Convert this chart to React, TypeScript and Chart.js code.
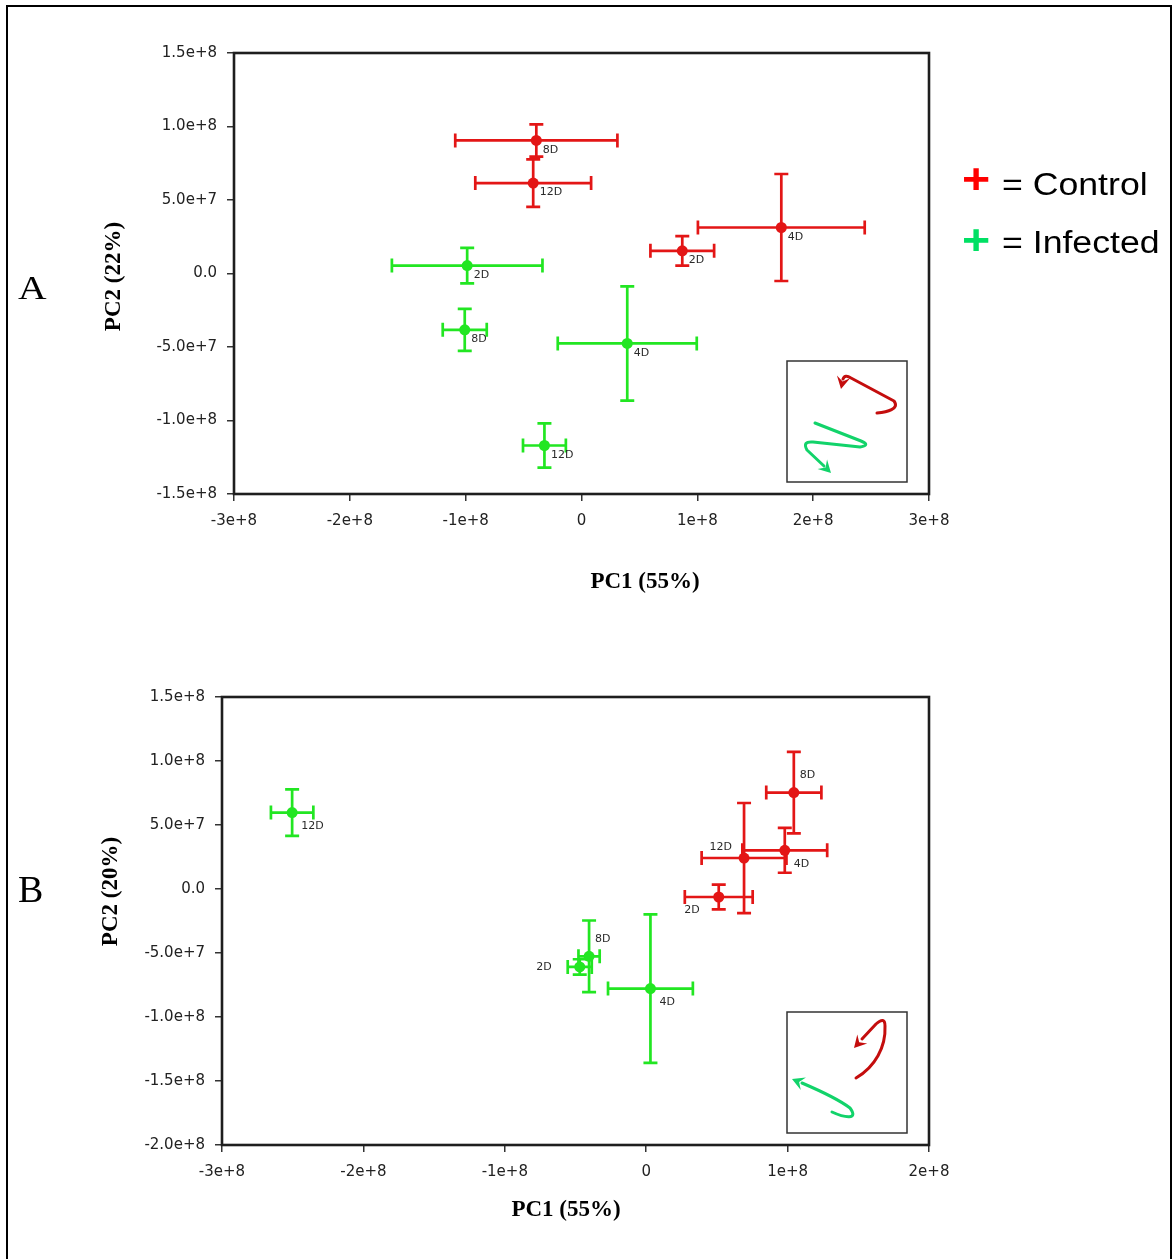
import React, { useEffect, useRef } from 'react';
import { Chart, registerables } from 'chart.js';

Chart.register(...registerables);

// ---------------- data ----------------
const days = ['2D', '4D', '8D', '12D'];

// Panel A
const aXTicks = ['-3e+8', '-2e+8', '-1e+8', '0', '1e+8', '2e+8', '3e+8'];
const aYTicks = ['-1.5e+8', '-1.0e+8', '-5.0e+7', '0.0', '5.0e+7', '1.0e+8', '1.5e+8'];
const aControlPC1 = [0.87e8, 1.725e8, -0.39e8, -0.417e8];
const aControlPC2 = [1.54e7, 3.13e7, 9.05e7, 6.15e7];
const aControlErr1 = [0.275e8, 0.72e8, 0.7e8, 0.5e8];
const aControlErr2 = [1.0e7, 3.64e7, 1.1e7, 1.62e7];
const aInfectedPC1 = [-0.987e8, 0.395e8, -1.008e8, -0.32e8];
const aInfectedPC2 = [0.54e7, -4.76e7, -3.83e7, -1.17e8];
const aInfectedErr1 = [0.65e8, 0.6e8, 0.19e8, 0.185e8];
const aInfectedErr2 = [1.21e7, 3.89e7, 1.43e7, 1.5e7];
const aControlTagSide = ['se', 'se', 'se', 'se'];
const aInfectedTagSide = ['se', 'se', 'se', 'se'];

// Panel B
const bXTicks = ['-3e+8', '-2e+8', '-1e+8', '0', '1e+8', '2e+8'];
const bYTicks = ['-2.0e+8', '-1.5e+8', '-1.0e+8', '-5.0e+7', '0.0', '5.0e+7', '1.0e+8', '1.5e+8'];
const bControlPC1 = [0.513e8, 0.98e8, 1.044e8, 0.692e8];
const bControlPC2 = [-0.625e7, 3.02e7, 7.53e7, 2.42e7];
const bControlErr1 = [0.24e8, 0.3e8, 0.195e8, 0.3e8];
const bControlErr2 = [0.97e7, 1.75e7, 3.18e7, 4.3e7];
const bInfectedPC1 = [-0.47e8, 0.03e8, -0.404e8, -2.504e8];
const bInfectedPC2 = [-6.09e7, -7.78e7, -5.26e7, 5.97e7];
const bInfectedErr1 = [0.085e8, 0.3e8, 0.075e8, 0.15e8];
const bInfectedErr2 = [0.6e7, 5.8e7, 2.8e7, 1.82e7];
const bControlTagSide = ['sw', 'se', 'ne', 'nw'];
const bInfectedTagSide = ['w', 'se', 'ne', 'se'];

const CONTROL_COLOR = '#e31616';
const INFECTED_COLOR = '#22e622';

// ---------------- plugins ----------------
const framePlugin = {
  id: 'plotFrame',
  afterDraw(chart: any) {
    const { ctx, chartArea: a } = chart;
    ctx.save();
    ctx.strokeStyle = '#1e1e1e';
    ctx.lineWidth = 2.6;
    ctx.strokeRect(a.left, a.top, a.right - a.left, a.bottom - a.top);
    ctx.restore();
  },
};

const errorBarPlugin = {
  id: 'errorBars',
  beforeDatasetsDraw(chart: any) {
    const { ctx } = chart;
    const xs = chart.scales.x;
    const ys = chart.scales.y;
    const cap = 7;
    chart.data.datasets.forEach((ds: any) => {
      ctx.save();
      ctx.strokeStyle = ds.backgroundColor;
      ctx.lineWidth = 2.7;
      ds.data.forEach((p: any) => {
        const cx = xs.getPixelForValue(p.x);
        const cy = ys.getPixelForValue(p.y);
        const x0 = xs.getPixelForValue(p.x - p.xErr);
        const x1 = xs.getPixelForValue(p.x + p.xErr);
        const y0 = ys.getPixelForValue(p.y + p.yErr);
        const y1 = ys.getPixelForValue(p.y - p.yErr);
        ctx.beginPath();
        ctx.moveTo(x0, cy);
        ctx.lineTo(x1, cy);
        ctx.moveTo(cx, y0);
        ctx.lineTo(cx, y1);
        ctx.moveTo(x0, cy - cap);
        ctx.lineTo(x0, cy + cap);
        ctx.moveTo(x1, cy - cap);
        ctx.lineTo(x1, cy + cap);
        ctx.moveTo(cx - cap, y0);
        ctx.lineTo(cx + cap, y0);
        ctx.moveTo(cx - cap, y1);
        ctx.lineTo(cx + cap, y1);
        ctx.stroke();
      });
      ctx.restore();
    });
  },
};

const tagPlugin = {
  id: 'pointTags',
  afterDatasetsDraw(chart: any, _args: any, opts: any) {
    const { ctx } = chart;
    const xs = chart.scales.x;
    const ys = chart.scales.y;
    const offsets = opts.offsets || {};
    ctx.save();
    ctx.font = '11px "DejaVu Sans", sans-serif';
    ctx.fillStyle = '#2a2a2a';
    ctx.textBaseline = 'middle';
    chart.data.datasets.forEach((ds: any) => {
      ds.data.forEach((p: any) => {
        const o = offsets[p.side] || { dx: 7, dy: 10, align: 'left' };
        ctx.textAlign = o.align;
        ctx.fillText(p.day, xs.getPixelForValue(p.x) + o.dx, ys.getPixelForValue(p.y) + o.dy);
      });
    });
    ctx.restore();
  },
};

function arrowHead(ctx: any, tx: number, ty: number, fx: number, fy: number, size: number) {
  const ang = Math.atan2(ty - fy, tx - fx);
  ctx.beginPath();
  ctx.moveTo(tx, ty);
  ctx.lineTo(tx - size * Math.cos(ang - 0.5), ty - size * Math.sin(ang - 0.5));
  ctx.lineTo(tx - size * 0.55 * Math.cos(ang), ty - size * 0.55 * Math.sin(ang));
  ctx.lineTo(tx - size * Math.cos(ang + 0.5), ty - size * Math.sin(ang + 0.5));
  ctx.closePath();
  ctx.fill();
}

const insetPlugin = {
  id: 'insetSketch',
  afterDraw(chart: any, _args: any, opts: any) {
    const { ctx, chartArea: a } = chart;
    const w = 120;
    const h = 121;
    const bx = a.right - 22 - w;
    const by = a.bottom - 12 - h;
    ctx.save();
    ctx.strokeStyle = '#333';
    ctx.lineWidth = 1.5;
    ctx.strokeRect(bx, by, w, h);
    ctx.lineWidth = 3;
    ctx.lineCap = 'round';
    ctx.lineJoin = 'round';
    const red = '#c40d0d';
    const green = '#12d36a';
    if (opts.variant === 'A') {
      ctx.strokeStyle = red;
      ctx.fillStyle = red;
      ctx.beginPath();
      ctx.moveTo(bx + 90, by + 52);
      ctx.bezierCurveTo(bx + 100, by + 51, bx + 113, by + 48, bx + 107, by + 40);
      ctx.lineTo(bx + 64, by + 17);
      ctx.quadraticCurveTo(bx + 58, by + 13, bx + 56, by + 18);
      ctx.stroke();
      arrowHead(ctx, bx + 54, by + 28, bx + 56.5, by + 16, 14);
      ctx.strokeStyle = green;
      ctx.fillStyle = green;
      ctx.beginPath();
      ctx.moveTo(bx + 28, by + 62);
      ctx.lineTo(bx + 74, by + 80);
      ctx.quadraticCurveTo(bx + 84, by + 84, bx + 73, by + 86);
      ctx.lineTo(bx + 26, by + 81);
      ctx.quadraticCurveTo(bx + 15, by + 80, bx + 20, by + 89);
      ctx.lineTo(bx + 37, by + 105);
      ctx.stroke();
      arrowHead(ctx, bx + 44, by + 112, bx + 35, by + 103, 14);
    } else {
      ctx.strokeStyle = red;
      ctx.fillStyle = red;
      ctx.beginPath();
      ctx.moveTo(bx + 69, by + 66);
      ctx.bezierCurveTo(bx + 88, by + 55, bx + 99, by + 35, bx + 98, by + 14);
      ctx.quadraticCurveTo(bx + 98, by + 4, bx + 89, by + 12);
      ctx.lineTo(bx + 75, by + 27);
      ctx.stroke();
      arrowHead(ctx, bx + 67, by + 36, bx + 77, by + 25, 14);
      ctx.strokeStyle = green;
      ctx.fillStyle = green;
      ctx.beginPath();
      ctx.moveTo(bx + 45, by + 100);
      ctx.bezierCurveTo(bx + 58, by + 106, bx + 72, by + 108, bx + 63, by + 96);
      ctx.quadraticCurveTo(bx + 50, by + 86, bx + 15, by + 71);
      ctx.stroke();
      arrowHead(ctx, bx + 5, by + 67, bx + 17, by + 72, 14);
    }
    ctx.restore();
  },
};

// ---------------- config ----------------
function makeDataset(label: string, color: string, pc1: number[], pc2: number[], e1: number[], e2: number[], sides: string[]) {
  return {
    label,
    backgroundColor: color,
    borderColor: color,
    borderWidth: 0,
    pointRadius: 5.5,
    pointHoverRadius: 5.5,
    data: pc1.map((x, i) => ({ x, y: pc2[i], xErr: e1[i], yErr: e2[i], day: days[i], side: sides[i] })),
  };
}

function buildConfig(p: any) {
  const gridCfg = { display: true, drawOnChartArea: false, drawTicks: true, tickLength: 7, color: '#333', lineWidth: 1.5 };
  return {
    type: 'scatter',
    data: { datasets: p.datasets },
    options: {
      responsive: false,
      animation: false,
      events: [],
      layout: { padding: { left: p.padLeft, right: 244, top: p.padTop, bottom: p.padBottom } },
      plugins: {
        legend: { display: false },
        tooltip: { enabled: false },
        pointTags: { offsets: p.offsets },
        insetSketch: { variant: p.variant },
      },
      scales: {
        x: {
          type: 'linear',
          position: 'bottom',
          min: p.xMin,
          max: p.xMax,
          afterFit: (s: any) => { s.height = 40; },
          ticks: {
            stepSize: 1e8,
            autoSkip: false,
            maxRotation: 0,
            padding: 11,
            color: '#222',
            font: { size: 15, family: '"DejaVu Sans", sans-serif' },
            callback: (_v: any, i: number) => p.xTicks[i],
          },
          grid: gridCfg,
          border: { display: false },
        },
        y: {
          type: 'linear',
          position: 'left',
          min: p.yMin,
          max: p.yMax,
          afterFit: (s: any) => { s.width = 100; },
          ticks: {
            stepSize: 5e7,
            autoSkip: false,
            padding: 10,
            color: '#222',
            font: { size: 15, family: '"DejaVu Sans", sans-serif' },
            callback: (_v: any, i: number) => p.yTicks[i],
          },
          grid: gridCfg,
          border: { display: false },
        },
      },
    },
    plugins: [errorBarPlugin, tagPlugin, framePlugin, insetPlugin],
  };
}

function ChartCanvas({ config, width, height, top }: any) {
  const ref = useRef<HTMLCanvasElement | null>(null);
  useEffect(() => {
    if (!ref.current) return;
    const chart = new Chart(ref.current, config as any);
    return () => chart.destroy();
  }, []);
  return (
    <canvas
      ref={ref}
      width={width}
      height={height}
      style={{ position: 'absolute', left: 0, top, width, height }}
    />
  );
}

const serif = '"Liberation Serif", "Times New Roman", serif';
const sans = '"Liberation Sans", Arial, sans-serif';

export default function App() {
  const configA = buildConfig({
    datasets: [
      makeDataset('Control', CONTROL_COLOR, aControlPC1, aControlPC2, aControlErr1, aControlErr2, aControlTagSide),
      makeDataset('Infected', INFECTED_COLOR, aInfectedPC1, aInfectedPC2, aInfectedErr1, aInfectedErr2, aInfectedTagSide),
    ],
    xMin: -3e8, xMax: 3e8, yMin: -1.5e8, yMax: 1.5e8,
    xTicks: aXTicks, yTicks: aYTicks,
    padLeft: 134, padTop: 53, padBottom: 106,
    offsets: { se: { dx: 6.5, dy: 9.5, align: 'left' } },
    variant: 'A',
  });
  const configB = buildConfig({
    datasets: [
      makeDataset('Control', CONTROL_COLOR, bControlPC1, bControlPC2, bControlErr1, bControlErr2, bControlTagSide),
      makeDataset('Infected', INFECTED_COLOR, bInfectedPC1, bInfectedPC2, bInfectedErr1, bInfectedErr2, bInfectedTagSide),
    ],
    xMin: -3e8, xMax: 2e8, yMin: -2e8, yMax: 1.5e8,
    xTicks: bXTicks, yTicks: bYTicks,
    padLeft: 122, padTop: 57, padBottom: 74,
    offsets: {
      se: { dx: 9, dy: 14, align: 'left' },
      ne: { dx: 6, dy: -17, align: 'left' },
      nw: { dx: -12, dy: -11, align: 'right' },
      sw: { dx: -19, dy: 13, align: 'right' },
      w: { dx: -28, dy: 0, align: 'right' },
    },
    variant: 'B',
  });

  const abs = (o: any) => ({ position: 'absolute' as const, whiteSpace: 'nowrap' as const, ...o });

  return (
    <div style={{ position: 'absolute', left: 0, top: 0, width: 1173, height: 1259, overflow: 'hidden', background: '#fff' }}>
      <ChartCanvas config={configA} width={1173} height={640} top={0} />
      <ChartCanvas config={configB} width={1173} height={619} top={640} />

      <div style={abs({ left: 6, top: 5, width: 1166, height: 1280, border: '2px solid #000', boxSizing: 'border-box' })} />

      <div style={abs({ left: 18, top: 272, fontFamily: serif, fontSize: 33, lineHeight: '33px', color: '#000', transform: 'scaleX(1.2)', transformOrigin: 'left' })}>A</div>
      <div style={abs({ left: 18, top: 870, fontFamily: serif, fontSize: 38, lineHeight: '38px', color: '#000' })}>B</div>

      <div style={abs({ left: 112 - 100, top: 276 - 11.5, width: 200, height: 23, lineHeight: '23px', textAlign: 'center', fontFamily: serif, fontWeight: 'bold', fontSize: 23, color: '#000', transform: 'rotate(-90deg)' })}>PC2 (22%)</div>
      <div style={abs({ left: 645 - 100, top: 568.7, width: 200, lineHeight: '23px', textAlign: 'center', fontFamily: serif, fontWeight: 'bold', fontSize: 23, color: '#000' })}>PC1 (55%)</div>

      <div style={abs({ left: 109 - 100, top: 891 - 11.5, width: 200, height: 23, lineHeight: '23px', textAlign: 'center', fontFamily: serif, fontWeight: 'bold', fontSize: 23, color: '#000', transform: 'rotate(-90deg)' })}>PC2 (20%)</div>
      <div style={abs({ left: 566 - 100, top: 1196.7, width: 200, lineHeight: '23px', textAlign: 'center', fontFamily: serif, fontWeight: 'bold', fontSize: 23, color: '#000' })}>PC1 (55%)</div>

      <div style={abs({ left: 962, top: 158, fontFamily: sans, fontWeight: 'bold', fontSize: 42, lineHeight: '42px', color: '#ff0000', transform: 'scaleX(1.15)', transformOrigin: 'left' })}>+</div>
      <div style={abs({ left: 1002, top: 168.8, fontFamily: sans, fontSize: 31, lineHeight: '31px', color: '#000', transform: 'scaleX(1.15)', transformOrigin: 'left' })}>= Control</div>
      <div style={abs({ left: 962, top: 219, fontFamily: sans, fontWeight: 'bold', fontSize: 42, lineHeight: '42px', color: '#00e064', transform: 'scaleX(1.15)', transformOrigin: 'left' })}>+</div>
      <div style={abs({ left: 1002, top: 226.8, fontFamily: sans, fontSize: 31, lineHeight: '31px', color: '#000', transform: 'scaleX(1.15)', transformOrigin: 'left' })}>= Infected</div>
    </div>
  );
}
